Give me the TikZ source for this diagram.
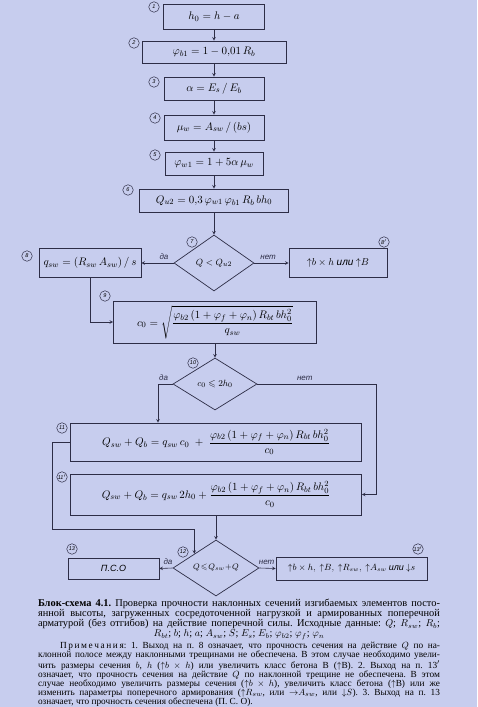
\documentclass[tikz,border=0pt]{standalone}
\usepackage{amssymb}
\usepackage{amsmath}
\usepackage{fontspec}
\setmainfont{Liberation Serif}
\newfontfamily\lbfont{Liberation Sans}
\usetikzlibrary{positioning,shapes.geometric}
\definecolor{paper}{RGB}{199,205,238}
\definecolor{ink}{RGB}{45,45,70}
\newcommand{\up}{\mathord{\uparrow}}
\newcommand{\dn}{\mathord{\downarrow}}
\frenchspacing

\begin{document}
\begin{tikzpicture}[x=1pt, y=-1pt, >=stealth,
  box/.style={draw=ink, line width=0.7pt, inner sep=2pt, font=\fontsize{11}{13}\selectfont},
  dec/.style={draw=ink, line width=0.7pt, diamond, aspect=1.5, inner sep=0pt, font=\fontsize{9.5}{11}\selectfont},
  num/.style={draw=ink, circle, line width=0.5pt, inner sep=0pt, minimum size=10.5pt, font=\lbfont\itshape\fontsize{5.5}{6}\selectfont},
  lbl/.style={font=\lbfont\itshape\fontsize{8}{9}\selectfont, text=ink},
  conn/.style={draw=ink, line width=0.6pt, ->},
  capt/.style={text width=402pt, align=justify, inner sep=0pt, font=\fontsize{10.4}{10}\selectfont}]

  % page
  \fill[paper] (0,0) rectangle (477,707);
  \useasboundingbox (0,0) rectangle (477,707);

  % main chain
  \node[box, minimum width=101pt, minimum height=25pt] (b1) at (214,16.5) {$h_0=h-a$};
  \node[box, minimum width=144pt, minimum height=22pt] (b2) at (214,52) {$\varphi_{b1}=1-0{,}01\,R_b$};
  \node[box, minimum width=100pt, minimum height=23pt] (b3) at (214,88.5) {$\alpha=E_s\,/\,E_b$};
  \node[box, minimum width=100pt, minimum height=25pt] (b4) at (214,127.5) {$\mu_w=A_{sw}\,/\,(bs)$};
  \node[box, minimum width=98pt, minimum height=23pt] (b5) at (214,163.5) {$\varphi_{w1}=1+5\alpha\,\mu_w$};
  \node[box, minimum width=149pt, minimum height=23pt] (b6) at (214,200.5) {$Q_{u2}=0{,}3\,\varphi_{w1}\,\varphi_{b1}\,R_b\,bh_0$};
  \node[dec, minimum width=80pt, minimum height=56pt] (d7) at (214,263) {$Q<Q_{u2}$};
  \node[box, minimum width=102pt, minimum height=29pt] (b8) at (90,263) {$q_{sw}=(R_{sw}\,A_{sw})\,/\,s$};
  \node[box, minimum width=98pt, minimum height=29pt, font=\fontsize{10}{12}\selectfont] (b8p) at (338,263) {$\up b\times h$\ {\lbfont\itshape или}\ $\up B$};
  \node[box, minimum width=203pt, minimum height=42pt] (b9) at (215,322)
    {$c_0=\sqrt{\dfrac{\varphi_{b2}\,(1+\varphi_f+\varphi_n)\,R_{bt}\,bh_0^2}{q_{sw}}}$};
  \node[dec, minimum width=84pt, minimum height=52pt] (d10) at (215,384) {$c_0\leqslant 2h_0$};
  \node[box, minimum width=291pt, minimum height=38pt] (b11) at (216,442)
    {$Q_{sw}+Q_b=q_{sw}\,c_0\;+\;\dfrac{\varphi_{b2}\,(1+\varphi_f+\varphi_n)\,R_{bt}\,bh_0^2}{c_0}$};
  \node[box, minimum width=291pt, minimum height=41pt] (b11p) at (216,494.5)
    {$Q_{sw}+Q_b=q_{sw}\,2h_0+\dfrac{\varphi_{b2}\,(1+\varphi_f+\varphi_n)\,R_{bt}\,bh_0^2}{c_0}$};
  \node[dec, minimum width=86pt, minimum height=56pt, font=\fontsize{8.5}{10}\selectfont] (d12) at (216,568) {$Q\!\leqslant\! Q_{sw}\!+\!Q$};
  \node[box, minimum width=91pt, minimum height=21pt, font=\lbfont\itshape\small] (b13) at (113.5,568.5) {П.С.О};
  \node[box, minimum width=151pt, minimum height=23pt, font=\fontsize{9}{11}\selectfont] (b13p) at (351.5,568.5)
    {$\up b\times h,\ \up B,\ \up R_{sw},\ \up A_{sw}$ {\lbfont\itshape или} $\dn s$};

  % step numbers
  \node[num] (n1) at (154,7) {1};
  \node[num] (n2) at (134,43) {2};
  \node[num] (n3) at (154,82) {3};
  \node[num] (n4) at (155,118) {4};
  \node[num] (n5) at (155,155) {5};
  \node[num] (n6) at (128,190) {6};
  \node[num] (n7) at (192,242) {7};
  \node[num] (n8) at (27,256) {8};
  \node[num] (n8p) at (384,242) {8$'$};
  \node[num] (n9) at (105,296) {9};
  \node[num] (n10) at (193,363) {10};
  \node[num] (n11) at (62,428) {11};
  \node[num] (n11p) at (62,477) {11$'$};
  \node[num] (n12) at (183,552) {12};
  \node[num] (n13) at (72,549) {13};
  \node[num] (n13p) at (418,549) {13$'$};

  % connectors
  \draw[conn] (b1) -- (b2);
  \draw[conn] (b2) -- (b3);
  \draw[conn] (b3) -- (b4);
  \draw[conn] (b4) -- (b5);
  \draw[conn] (b5) -- (b6);
  \draw[conn] (b6) -- (d7);
  \draw[conn] (d7.west) -- node[lbl, above, pos=0.3] {да} (b8.east);
  \draw[conn] (d7.east) -- node[lbl, above, pos=0.4] {нет} (b8p.west);
  \draw[conn] (b8.south) |- (b9.west);
  \draw[conn] (b9) -- (d10);
  \draw[conn] (d10.west) node[lbl, above left=0pt and 1pt] {да} -| ([xshift=-58pt]b11.north);
  \draw[conn] (d10.east) -| node[lbl, above, pos=0.2] {нет} ([xshift=14pt]b11p.east) -- (b11p.east);
  \draw[conn] (b11.west) -- ++(-18,0) |- ([yshift=25pt]d12.north west) -- (d12.north west);
  \draw[conn] (b11p) -- (d12);
  \draw[conn] (d12.west) -- node[lbl, above, pos=0.35] {да} (b13.east);
  \draw[conn] (d12.east) -- node[lbl, above, pos=0.45] {нет} (b13p.west);

  % caption
  \node[capt, anchor=north] (cap) at (239,599) {%
    \parfillskip=0pt
    \textbf{Блок-схема 4.1.} Проверка прочности наклонных сечений изгибаемых элементов посто-\linebreak
    янной высоты, загруженных сосредоточенной нагрузкой и армированных поперечной\linebreak
    арматурой (без отгибов) на действие поперечной силы. Исходные данные: $Q$; $R_{sw}$; $R_b$;\par
    {\centering $R_{bt}$; $b$; $h$; $a$; $A_{sw}$; $S$; $E_s$; $E_b$; $\varphi_{b2}$; $\varphi_f$; $\varphi_n$\par}};
  \node[capt, below=2pt of cap, font=\fontsize{9.3}{9.1}\selectfont] (notes) {%
    \parfillskip=0pt plus 1fil
    \hspace*{22pt}П\kern1.6pt р\kern1.6pt и\kern1.6pt м\kern1.6pt е\kern1.6pt ч\kern1.6pt а\kern1.6pt н\kern1.6pt и\kern1.6pt я: 1. Выход на п. 8 означает, что прочность сечения на действие $Q$ по на-\linebreak
    клонной полосе между наклонными трещинами не обеспечена. В этом случае необходимо увели-\linebreak
    чить размеры сечения $b$, $h$ ($\up b\times h$) или увеличить класс бетона В ($\up$В). 2. Выход на п. 13$'$\linebreak
    означает, что прочность сечения на действие $Q$ по наклонной трещине не обеспечена. В этом\linebreak
    случае необходимо увеличить размеры сечения ($\up b\times h$), увеличить класс бетона ($\up$В) или же\linebreak
    изменить параметры поперечного армирования ($\up R_{sw}$, или $\mathord{\rightarrow} A_{sw}$, или $\dn S$). 3. Выход на п. 13\linebreak
    означает, что прочность сечения обеспечена (П. С. О).\par};

\end{tikzpicture}
\end{document}
